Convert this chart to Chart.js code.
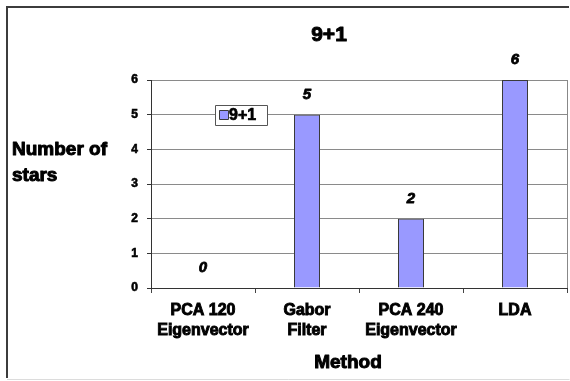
<!DOCTYPE html>
<html>
<head>
<meta charset="utf-8">
<script src="https://cdn.jsdelivr.net/npm/chart.js@4/dist/chart.umd.min.js"></script>
<style>
  html, body { margin: 0; padding: 0; background: #ffffff; }
  #wrap { width: 570px; height: 381px; position: relative; }
</style>
</head>
<body>
<div id="wrap"><canvas id="c" width="570" height="381"></canvas></div>
<script>
// Number of stars per recognition method, series "9+1"
const methods = [
  ['PCA 120', 'Eigenvector'],
  ['Gabor', 'Filter'],
  ['PCA 240', 'Eigenvector'],
  ['LDA']
];
const seriesName = '9+1';
const starCounts = [0, 5, 2, 6];
const yTicks = [0, 1, 2, 3, 4, 5, 6];

const chartTitle = '9+1';
const yTitleLines = ['Number of', 'stars'];
const xTitle = 'Method';

const FONT = '"Liberation Sans", Arial, sans-serif';
const BAR_FILL = '#9999ff';
const BAR_EDGE = '#3a3a3a';

// heavy text: fill plus a thin outline in the same colour
function heavyText(ctx, text, x, y, stroke) {
  ctx.lineWidth = stroke;
  ctx.lineJoin = 'round';
  ctx.strokeStyle = ctx.fillStyle;
  ctx.strokeText(text, x, y);
  ctx.fillText(text, x, y);
}

// Frame and white page behind the chart
const framePlugin = {
  id: 'frame',
  beforeDraw(chart) {
    const ctx = chart.ctx;
    ctx.save();
    ctx.fillStyle = '#ffffff';
    ctx.fillRect(0, 0, 570, 381);
    ctx.strokeStyle = '#3c3c3c';
    ctx.lineWidth = 2;
    ctx.beginPath();
    ctx.moveTo(7, 378);
    ctx.lineTo(7, 7);
    ctx.lineTo(569, 7);
    ctx.stroke();
    ctx.strokeStyle = '#dcdcdc';
    ctx.lineWidth = 1;
    ctx.beginPath();
    ctx.moveTo(7, 379.5);
    ctx.lineTo(569.5, 379.5);
    ctx.stroke();
    ctx.restore();
  }
};

// Titles, value labels, right plot edge and the inset legend
const textPlugin = {
  id: 'texts',
  afterDraw(chart) {
    const ctx = chart.ctx;
    const area = chart.chartArea;
    ctx.save();

    // right edge of the plot area
    ctx.strokeStyle = '#888888';
    ctx.lineWidth = 1;
    ctx.beginPath();
    ctx.moveTo(Math.round(area.right) + 0.5, area.top);
    ctx.lineTo(Math.round(area.right) + 0.5, area.bottom);
    ctx.stroke();

    ctx.fillStyle = '#000000';
    ctx.textBaseline = 'middle';

    // chart title
    ctx.textAlign = 'center';
    ctx.font = 'bold 21px ' + FONT;
    heavyText(ctx, chartTitle, 329, 35, 1);

    // y axis title, left aligned on two lines
    ctx.textAlign = 'left';
    ctx.font = 'bold 19px ' + FONT;
    heavyText(ctx, yTitleLines[0], 12, 150, 1);
    heavyText(ctx, yTitleLines[1], 12, 176, 1);

    // x axis title
    ctx.textAlign = 'center';
    ctx.font = 'bold 19px ' + FONT;
    heavyText(ctx, xTitle, 348, 363, 1);

    // value labels above each bar
    const meta = chart.getDatasetMeta(0);
    const yScale = chart.scales.y;
    ctx.font = 'italic bold 15px ' + FONT;
    meta.data.forEach((bar, i) => {
      const top = yScale.getPixelForValue(starCounts[i]);
      heavyText(ctx, String(starCounts[i]), bar.x, top - 20, 0.8);
    });

    // inset legend
    const lx = 215, ly = 105, lw = 52, lh = 20;
    ctx.fillStyle = '#ffffff';
    ctx.fillRect(lx, ly, lw, lh);
    ctx.strokeStyle = '#555555';
    ctx.lineWidth = 1;
    ctx.strokeRect(lx + 0.5, ly + 0.5, lw, lh);
    ctx.fillStyle = BAR_FILL;
    ctx.fillRect(lx + 4, ly + 5, 9, 9);
    ctx.strokeStyle = BAR_EDGE;
    ctx.strokeRect(lx + 4.5, ly + 5.5, 9, 9);
    ctx.fillStyle = '#000000';
    ctx.textAlign = 'left';
    ctx.font = 'bold 16px ' + FONT;
    heavyText(ctx, seriesName, lx + 14, ly + 11, 0.7);

    ctx.restore();
  }
};

new Chart(document.getElementById('c'), {
  type: 'bar',
  data: {
    labels: methods,
    datasets: [{
      label: seriesName,
      data: starCounts,
      backgroundColor: BAR_FILL,
      borderColor: BAR_EDGE,
      borderWidth: 1,
      barPercentage: 0.25,
      categoryPercentage: 1.0
    }]
  },
  options: {
    responsive: false,
    animation: false,
    layout: { padding: { top: 80, right: 3, left: 0, bottom: 0 } },
    plugins: {
      legend: { display: false },
      title: { display: false },
      tooltip: { enabled: false }
    },
    scales: {
      x: {
        afterFit(scale) { scale.height = 93; },
        grid: {
          offset: true,
          drawOnChartArea: false,
          tickLength: 5,
          tickColor: '#444444'
        },
        border: { color: '#333333', width: 1 },
        ticks: {
          color: '#000000',
          textStrokeColor: '#000000',
          textStrokeWidth: 0.9,
          font: { family: FONT, size: 16, weight: 'bold', lineHeight: 1.25 },
          padding: 8,
          maxRotation: 0,
          autoSkip: false
        }
      },
      y: {
        min: 0,
        max: 6,
        afterFit(scale) { scale.width = 151; },
        afterBuildTicks(scale) { scale.ticks = yTicks.map(v => ({ value: v })); },
        grid: {
          color: '#8a8a8a',
          tickColor: '#333333',
          tickLength: 4
        },
        border: { color: '#333333', width: 1 },
        ticks: {
          color: '#000000',
          textStrokeColor: '#000000',
          textStrokeWidth: 0.6,
          font: { family: FONT, size: 12, weight: 'bold' },
          padding: 9
        }
      }
    }
  },
  plugins: [framePlugin, textPlugin]
});
</script>
</body>
</html>
